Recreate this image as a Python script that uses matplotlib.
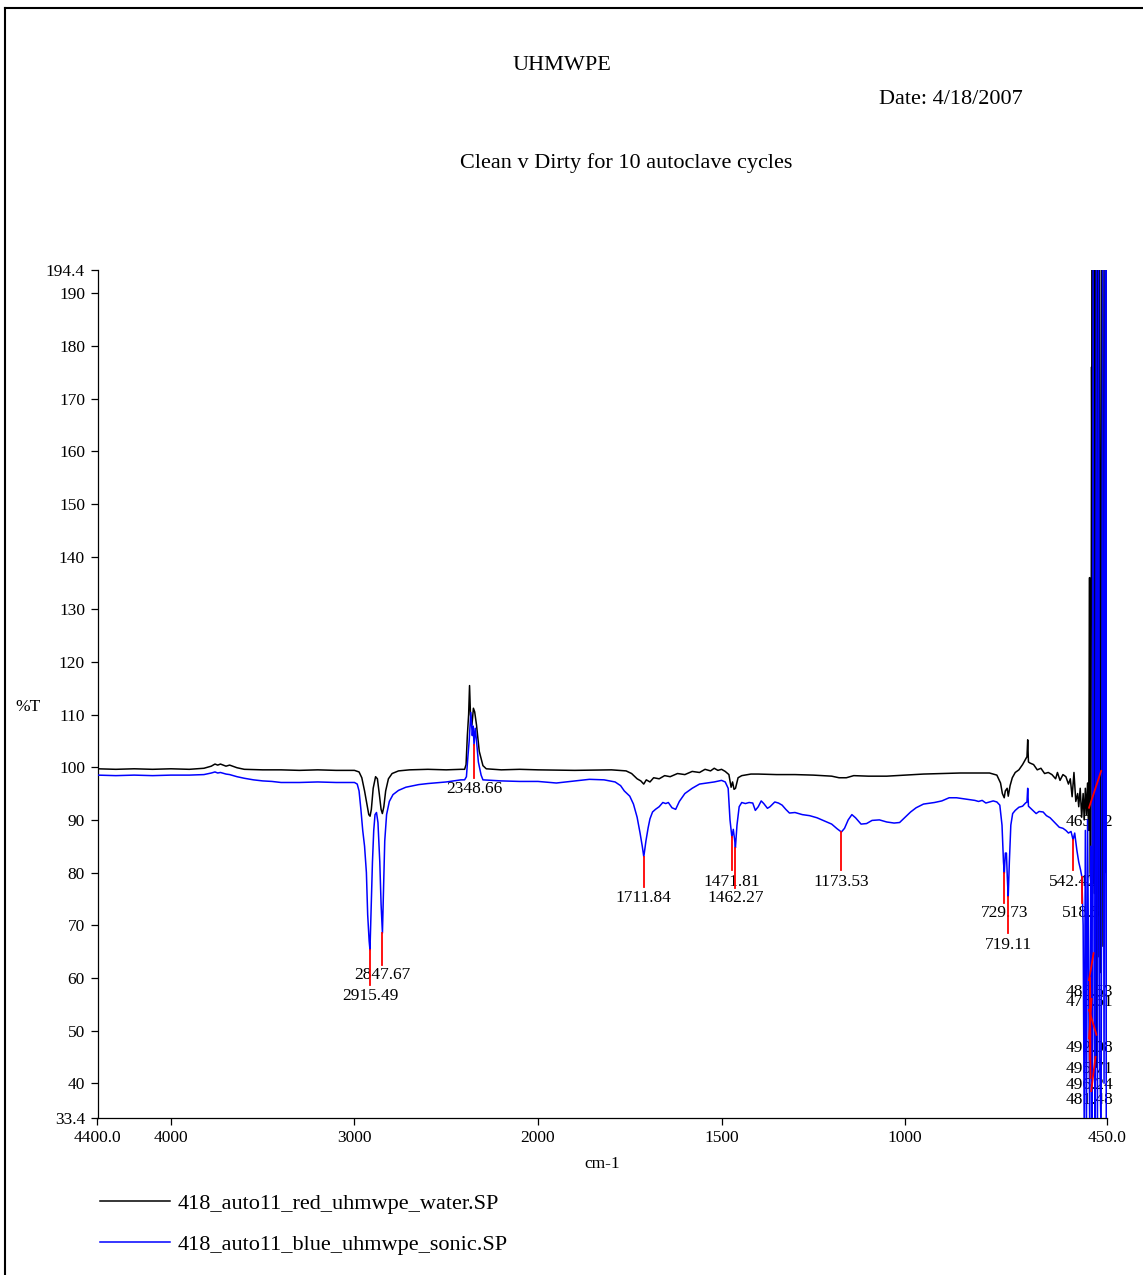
import numpy as np
import matplotlib
matplotlib.use("Agg")
import matplotlib.pyplot as plt
from matplotlib.lines import Line2D

plt.rcParams['font.family'] = ['Liberation Serif', 'DejaVu Serif']

# --- spectra (wavenumber cm-1, %T) ---
water_wn = [4400, 4300, 4200, 4100, 4000, 3900, 3820, 3780, 3760, 3745, 3730, 3700, 3680, 3640,
            3600, 3500, 3400, 3300, 3200, 3100, 3000, 2975, 2960, 2945, 2930, 2922, 2915, 2908,
            2898, 2885, 2875, 2865, 2855, 2848, 2840, 2830, 2815, 2795, 2760, 2700, 2600, 2500,
            2420, 2400, 2392, 2385, 2378, 2373, 2368, 2360, 2352, 2345, 2335, 2320, 2300, 2282,
            2200, 2100, 2000, 1900, 1800, 1760, 1745, 1730, 1720, 1712, 1705, 1695, 1685, 1670,
            1655, 1640, 1620, 1600, 1580, 1560, 1545, 1530, 1520, 1510, 1500, 1490, 1480, 1474,
            1470, 1466, 1462, 1455, 1445, 1420, 1400, 1350, 1300, 1250, 1200, 1180, 1160, 1140,
            1100, 1050, 1000, 950, 900, 850, 800, 770, 750, 740, 735, 730, 727, 722, 719, 714,
            708, 700, 690, 680, 672, 668, 666, 664, 660, 650, 640, 630, 620, 610, 600, 590, 585,
            578, 570, 562, 555, 550, 545, 540, 535, 530, 527, 523, 519, 515, 512, 509, 506, 503,
            500, 497.5, 496, 494, 492, 491, 490, 488, 486, 484, 482, 479.5, 477, 475, 472, 470,
            467, 464, 461, 458, 455, 452, 450]
water_t = [99.7, 99.6, 99.7, 99.6, 99.7, 99.6, 99.8, 100.2, 100.6, 100.4, 100.6, 100.2, 100.4, 99.9,
           99.6, 99.5, 99.5, 99.4, 99.5, 99.4, 99.4, 99.1, 98.0, 95.5, 92.5, 91.0, 90.7, 92.0,
           96.0, 98.2, 97.8, 95.0, 92.0, 91.2, 92.5, 95.5, 97.8, 98.8, 99.3, 99.5, 99.6, 99.5,
           99.6, 99.6, 100.5, 106.0, 110.0, 115.5, 110.0, 108.0, 111.2, 110.5, 108.0, 103.0, 100.3, 99.7,
           99.5, 99.6, 99.5, 99.4, 99.5, 99.3, 98.8, 97.8, 97.4, 96.8, 97.6, 97.2, 98.0, 97.8,
           98.4, 98.2, 98.8, 98.6, 99.2, 99.0, 99.6, 99.3, 99.8, 99.4, 99.6, 99.2, 98.6, 96.2,
           97.2, 95.8, 96.0, 98.0, 98.4, 98.7, 98.7, 98.6, 98.6, 98.5, 98.3, 98.0, 98.0, 98.4,
           98.3, 98.3, 98.5, 98.7, 98.8, 98.9, 98.9, 98.9, 98.5, 97.0, 95.0, 94.2, 95.5, 96.0, 94.5, 96.5,
           98.0, 99.0, 99.5, 100.5, 101.5, 102.0, 105.2, 101.0, 100.8, 100.5, 99.5, 99.8, 98.8, 99.0, 98.6, 97.8, 99.0,
           97.5, 98.6, 98.2, 96.8, 97.8, 94.4, 99.0, 93.5, 95.0, 92.5, 96.0, 90.5, 95.0, 90.0, 96.0, 91.0, 97.0,
           88.0, 136.0, 80.0, 78.0, 176.0, 154.0, 200.0, 78.0, 200.0, 76.0, 200.0, 80.0, 43.0, 200.0, 64.0, 200.0,
           61.0, 200.0, 66.0, 200.0, 80.0, 200.0, 90.0]

sonic_wn = [4400, 4300, 4200, 4100, 4000, 3900, 3820, 3780, 3760, 3745, 3730, 3700, 3680, 3640,
            3600, 3550, 3500, 3450, 3400, 3300, 3200, 3100, 3000, 2985, 2975, 2965, 2955, 2945,
            2935, 2928, 2920, 2915.49, 2910, 2902, 2895, 2888, 2880, 2872, 2862, 2855, 2847.67,
            2842, 2835, 2825, 2810, 2790, 2760, 2720, 2650, 2600, 2500, 2420, 2400, 2390, 2382,
            2375, 2366, 2358, 2353, 2348.66, 2342, 2335, 2325, 2310, 2300, 2200, 2100, 2000, 1950,
            1900, 1860, 1820, 1790, 1775, 1765, 1750, 1740, 1730, 1722, 1716, 1711.84, 1706, 1700,
            1695, 1688, 1680, 1670, 1660, 1652, 1645, 1635, 1625, 1615, 1600, 1580, 1560, 1540,
            1520, 1500, 1490, 1482, 1477, 1471.81, 1468, 1464, 1462.27, 1458, 1452, 1445, 1435,
            1425, 1415, 1408, 1400, 1392, 1385, 1375, 1368, 1355, 1345, 1335, 1325, 1315, 1300,
            1280, 1260, 1240, 1220, 1200, 1185, 1173.53, 1165, 1155, 1145, 1135, 1120, 1105, 1090,
            1070, 1050, 1030, 1015, 1000, 985, 970, 950, 920, 900, 880, 860, 850, 830, 810, 800,
            790, 780, 770, 760, 750, 742, 736, 732, 729.73, 727, 724, 721.5, 719.11, 716, 712, 707,
            700, 690, 680, 672, 668, 666, 664, 655, 643, 635, 624, 615, 605, 598, 590, 580, 570,
            562, 555, 548, 542.42, 538, 532, 527, 522, 518.5, 515, 512, 509, 506, 503, 500,
            497, 494, 491, 488, 485, 482, 479, 476, 473, 470, 466, 462, 458, 455, 452, 450.5, 450]
sonic_t = [98.5, 98.4, 98.5, 98.4, 98.5, 98.5, 98.6, 98.9, 99.1, 98.9, 99.0, 98.7, 98.6, 98.2,
           97.9, 97.6, 97.4, 97.3, 97.1, 97.1, 97.2, 97.1, 97.1, 96.8, 95.5, 92.0, 88.0, 85.0,
           80.0, 72.0, 67.0, 65.3, 72.0, 82.0, 88.0, 91.0, 91.4, 89.5, 82.0, 74.0, 68.5,
           76.0, 86.0, 91.0, 93.5, 94.8, 95.6, 96.2, 96.7, 96.9, 97.2, 97.6, 97.6, 98.2, 102.0,
           105.0, 110.4, 106.0, 107.8, 104.2, 107.4, 105.0, 101.0, 98.5, 97.6, 97.4, 97.3, 97.3, 97.0,
           97.4, 97.7, 97.6, 97.2, 96.5, 95.5, 94.5, 93.0, 90.5, 87.5, 85.0, 83.0, 86.0, 88.5,
           90.2, 91.5, 92.0, 92.5, 93.3, 93.1, 93.3, 92.3, 92.0, 93.5, 95.0, 96.0, 96.8, 97.0,
           97.2, 97.5, 97.2, 96.0, 90.0, 86.7, 88.2, 86.0, 84.7, 89.0, 92.5, 93.3, 93.1,
           93.3, 93.2, 91.8, 92.5, 93.6, 93.1, 92.2, 92.5, 93.4, 93.2, 92.8, 92.0, 91.3, 91.4,
           91.0, 90.8, 90.4, 89.8, 89.2, 88.3, 87.7, 88.4, 90.0, 91.0, 90.4, 89.2, 89.3, 89.9,
           90.0, 89.6, 89.4, 89.5, 90.5, 91.5, 92.3, 93.0, 93.3, 93.6, 94.2, 94.2, 94.1, 93.9, 93.7, 93.5,
           93.7, 93.2, 93.4, 93.6, 93.4, 92.8, 89.0, 82.0, 79.9, 83.7, 83.7, 79.0, 75.4, 82.0, 89.0, 91.2,
           91.8, 92.4, 92.6, 93.2, 93.4, 96.0, 92.6, 92.0, 91.2, 91.6, 91.5, 90.8, 90.4, 89.9, 89.3, 88.6, 88.4,
           88.0, 87.5, 87.8, 86.2, 87.5, 84.2, 82.0, 80.5, 79.2, 70.0, 30.0, 88.0, 30.0, 90.0, 60.0,
           30.0, 85.0, 30.0, 200.0, 50.0, 30.0, 200.0, 30.0, 200.0, 45.0, 30.0, 200.0, 40.0, 200.0, 30.0, 200.0, 30.0]

water_label = '418_auto11_red_uhmwpe_water.SP'
sonic_label = '418_auto11_blue_uhmwpe_sonic.SP'

# picked peaks: position and %T at the peak
peak_wn = [2915.49, 2847.67, 2348.66, 1711.84, 1471.81, 1462.27, 1173.53, 729.73, 719.11,
           542.42, 518.5, 465.92, 486.53, 478.61, 492.08, 495.71, 496.24, 481.48]
peak_t = [65.3, 68.5, 104.2, 83.0, 86.7, 84.7, 87.7, 79.9, 75.4,
          86.2, 79.2, 99.3, 64.7, 49.2, 56.0, 58.0, 60.0, 45.0]
peak_text = ['2915.49', '2847.67', '2348.66', '1711.84', '1471.81', '1462.27', '1173.53', '729.73',
             '719.11', '542.42', '518.5', '465.92', '486.53', '478.61', '492.08', '495.71', '496.24',
             '481.48']

# where each marker line ends and where its label sits (wn, %T)
lead_end = [(2915.49, 58.7), (2847.67, 62.4), (2348.66, 97.9), (1711.84, 77.3), (1471.81, 80.5),
            (1462.27, 77.1), (1173.53, 80.5), (729.73, 74.2), (719.11, 68.5), (542.42, 80.5),
            (518.5, 74.2), (499.0, 92.3), (499.0, 59.6), (499.0, 53.9), (499.0, 48.5),
            (497.0, 44.5), (495.0, 41.0), (493.0, 38.5)]
label_pos = [(2915.49, 56.6), (2847.67, 60.5), (2348.66, 95.9), (1711.84, 75.2), (1471.81, 78.2),
             (1462.27, 75.2), (1173.53, 78.2), (729.73, 72.3), (719.11, 66.2), (542.42, 78.2),
             (518.5, 72.3), (497.0, 89.6), (497.0, 57.3), (497.0, 55.4), (497.0, 46.7),
             (497.0, 42.7), (497.0, 39.7), (497.0, 36.8)]

y_ticks = [33.4, 40, 50, 60, 70, 80, 90, 100, 110, 120, 130, 140, 150, 160, 170, 180, 190, 194.4]
y_ticklabels = ['33.4', '40', '50', '60', '70', '80', '90', '100', '110', '120', '130', '140',
                '150', '160', '170', '180', '190', '194.4']
x_ticks = [4400, 4000, 3000, 2000, 1500, 1000, 450]
x_ticklabels = ['4400.0', '4000', '3000', '2000', '1500', '1000', '450.0']


# x axis is compressed 2:1 above 2000 cm-1
def fwd(w):
    w = np.asarray(w, dtype=float)
    return np.where(w >= 2000, w, 2 * w - 2000)


def inv(v):
    v = np.asarray(v, dtype=float)
    return np.where(v >= 2000, v, (v + 2000) / 2)


W, H = 1143, 1275
fig = plt.figure(figsize=(W / 100, H / 100), dpi=100)
ax = fig.add_axes([97.5 / W, 1 - 1118 / H, (1107 - 97.5) / W, (1118 - 270) / H])

ax.set_xscale('function', functions=(fwd, inv))
l1, = ax.plot(water_wn, water_t, color='black', lw=1.1, zorder=3)
l2, = ax.plot(sonic_wn, sonic_t, color='#0000ff', lw=1.1, zorder=3)
ax.set_xlim(4400, 450)
ax.set_ylim(33.4, 194.4)

for (pw, pt, txt, (ew, et), (lx, ly)) in zip(peak_wn, peak_t, peak_text, lead_end, label_pos):
    ax.plot([pw, ew], [pt, et], color='red', lw=1.3, zorder=4)
    ax.text(lx, ly, txt, ha='center', va='center', fontsize=12.5, zorder=1)

for s in ['top', 'right']:
    ax.spines[s].set_visible(False)
for s in ['left', 'bottom']:
    ax.spines[s].set_linewidth(0.9)

ax.set_yticks(y_ticks)
ax.set_yticklabels(y_ticklabels)
ax.set_xticks(x_ticks)
ax.set_xticklabels(x_ticklabels)
ax.minorticks_off()
ax.tick_params(axis='both', direction='out', length=5, width=0.9, labelsize=12.5, pad=4)

fig.text(28 / W, 1 - 707 / H, '%T', ha='center', va='center', fontsize=12.5)
fig.text(602 / W, 1 - 1164 / H, 'cm-1', ha='center', va='center', fontsize=12.5)

fig.text(562 / W, 1 - 66 / H, 'UHMWPE', ha='center', va='center', fontsize=16)
fig.text(951 / W, 1 - 100 / H, 'Date: 4/18/2007', ha='center', va='center', fontsize=16)
fig.text(626 / W, 1 - 163 / H, 'Clean v Dirty for 10 autoclave cycles', ha='center', va='center',
         fontsize=16)

fig.legend([l1, l2], [water_label, sonic_label], loc='upper left',
           bbox_to_anchor=(100 / W, 1 - 1193 / H), frameon=False, fontsize=16,
           handlelength=3.15, handletextpad=0.36, labelspacing=0.95, borderpad=0,
           borderaxespad=0)

# page frame
fig.add_artist(Line2D([5 / W, 5 / W], [0, 1 - 8 / H], color='black', lw=1.5))
fig.add_artist(Line2D([5 / W, 1], [1 - 8 / H, 1 - 8 / H], color='black', lw=1.5))

fig.savefig('out.png', dpi=100)
